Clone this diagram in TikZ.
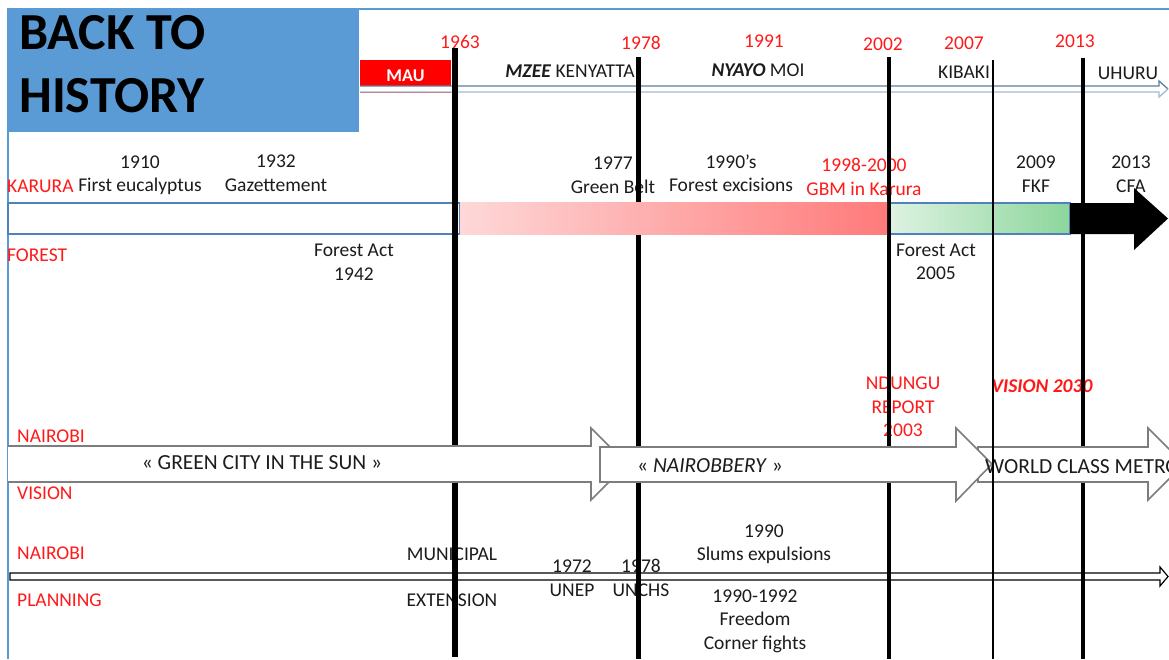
\documentclass[tikz,border=0pt]{standalone}
\usepackage{fontspec}
\setmainfont{Carlito}
\definecolor{frameblue}{RGB}{91,155,213}
\definecolor{redc}{RGB}{255,25,25}
\definecolor{txtc}{RGB}{28,28,30}
\definecolor{barblue}{RGB}{79,129,189}
\definecolor{axisblue}{RGB}{95,125,160}
\definecolor{axislight}{RGB}{165,185,205}
\definecolor{pinkL}{RGB}{254,216,216}
\definecolor{pinkR}{RGB}{255,122,122}
\definecolor{greenL}{RGB}{222,242,226}
\definecolor{greenR}{RGB}{140,214,155}
\definecolor{arrowgray}{RGB}{125,125,125}
\begin{document}
\begin{tikzpicture}[x=1pt,y=-1pt,
  txt/.style={font=\fontsize{19.5}{23.5}\selectfont, text=txtc, inner sep=0pt, align=center},
  rtxt/.style={txt, text=redc},
  vtxt/.style={font=\fontsize{21.5}{25}\selectfont, text=txtc, inner sep=0pt},
  vline/.style={black, line cap=butt},
  varrow/.style={fill=white, draw=arrowgray, line width=1.6pt, line join=miter},
  bartop/.style={draw=barblue, line width=1.3pt}]
\useasboundingbox (0,0) rectangle (1169,659);
\clip (0,0) rectangle (1169,659);
\fill[white] (0,0) rectangle (1169,659);

% frame and title
\draw[frameblue, line width=2pt] (8,659) -- (8,9) -- (1169,9);
\fill[frameblue] (8,9) rectangle (359,132);
\node[anchor=west, inner sep=0pt, text=black, font=\fontsize{52}{58}\selectfont\bfseries] (back) at (19,33) {BACK TO};
\node[anchor=west, inner sep=0pt, text=black, font=\fontsize{52}{58}\selectfont\bfseries] (hist) at (19,96) {HISTORY};

% top ruler
\node[fill=red, minimum width=91pt, minimum height=33pt, inner sep=0pt, text=white, font=\fontsize{18}{20}\selectfont\bfseries] (mau) at (405.5,76) {MAU};
\fill[white] (360,86) -- (1159,86) -- (1159,81) -- (1168,89) -- (1159,97) -- (1159,92) -- (360,92) -- cycle;
\draw[axisblue, line width=1.3pt, line join=miter] (360,86) -- (1159,86) -- (1159,81) -- (1168,89);
\draw[axislight, line width=1.3pt, line join=miter] (1168,89) -- (1159,97) -- (1159,92) -- (360,92);

\node[rtxt] (y1963) at (460,42) {1963};
\node[rtxt] (y1978) at (641,43) {1978};
\node[rtxt] (y1991) at (764,41) {1991};
\node[rtxt] (y2002) at (883,44) {2002};
\node[rtxt] (y2007) at (964,43) {2007};
\node[rtxt] (y2013) at (1075,41) {2013};
\node[txt] (kenyatta) at (570,71) {\textbf{\textit{MZEE}} KENYATTA};
\node[txt] (moi) at (758,70) {\textbf{\textit{NYAYO}} MOI};
\node[txt] (kibaki) at (964,72) {KIBAKI};
\node[txt] (uhuru) at (1128,73) {UHURU};

% forest section texts
\node[rtxt, anchor=west] (karura) at (7,186) {KARURA};
\node[txt] (f1910) at (140,175) {1910\\First eucalyptus};
\node[txt] (f1932) at (276,173) {1932\\Gazettement};
\node[txt] (f1977) at (613,175) {1977\\Green Belt};
\node[txt] (f1990) at (731,173) {1990’s\\Forest excisions};
\node[rtxt] (gbm) at (864,177) {1998-2000\\GBM in Karura};
\node[txt] (fkf) at (1036,174) {2009\\FKF};
\node[txt] (cfa) at (1131,174) {2013\\CFA};
\node[rtxt, anchor=west] (forest) at (7,255) {FOREST};
\node[txt] (fa1942) at (354,262) {Forest Act\\1942};
\node[txt] (fa2005) at (936,262) {Forest Act\\2005};

% vision texts
\node[rtxt] (ndungu) at (903,407) {NDUNGU\\REPORT\\2003};
\node[rtxt, font=\fontsize{19.5}{23.5}\selectfont\bfseries\itshape] (v2030) at (1042,386) {VISION 2030};
\node[rtxt, anchor=west] (nairobi1) at (17,436) {NAIROBI};
\node[rtxt, anchor=west] (vision) at (17,493) {VISION};

% planning texts
\node[rtxt, anchor=west] (nairobi2) at (17,553) {NAIROBI};
\node[rtxt, anchor=west] (planning) at (17,600) {PLANNING};
\node[txt] (municipal) at (452,554) {MUNICIPAL};
\node[txt] (extension) at (452,600) {EXTENSION};
\node[txt] (unep) at (572,578) {1972\\UNEP};
\node[txt] (unchs) at (641,578) {1978\\UNCHS};
\node[txt] (slums) at (764,544) {1990\\Slums expulsions};
\node[txt] (freedom) at (755,621) {1990-1992\\Freedom\\Corner fights};

% forest bar
\draw[bartop, fill=white] (8,203) rectangle (460,234);
\shade[left color=greenL, right color=greenR, draw=barblue, line width=1.3pt] (889,203) rectangle (1070,234);

% planning axis
\draw[black, line width=1.2pt, fill=white, line join=miter] (10,573) -- (1160,573) -- (1160,567) -- (1168,576.5) -- (1160,586) -- (1160,580) -- (10,580) -- cycle;

% vertical lines
\draw[vline, line width=6.5pt] (455,48) -- (455,657);
\draw[vline, line width=5pt] (638,57) -- (638,659);
\draw[vline, line width=4pt] (889,57) -- (889,659);
\draw[vline, line width=1.4pt] (993,60) -- (993,659);
\draw[vline, line width=4.5pt] (1083,58) -- (1083,659);

% pink gradient over the 1978 line
\shade[left color=pinkL, right color=pinkR] (460,202) rectangle (887,234);
% black forest arrow
\fill[black] (1070,203) -- (1134,203) -- (1134,188) -- (1168,218.5) -- (1134,250) -- (1134,234) -- (1070,234) -- cycle;

% vision arrows
\draw[varrow] (8,446) -- (591,446) -- (591,428) -- (627,464) -- (591,500) -- (591,482) -- (8,482);
\draw[varrow] (978,447) -- (1148,447) -- (1148,428) -- (1184,464) -- (1148,500) -- (1148,482) -- (978,482) -- cycle;
\draw[varrow] (600,447) -- (956,447) -- (956,428) -- (992,464) -- (956,501) -- (956,482) -- (600,482) -- cycle;
\node[vtxt] (green) at (262,463) {« GREEN CITY IN THE SUN »};
\node[vtxt] (nairobbery) at (710,466) {« \textit{NAIROBBERY} »};
\node[vtxt, anchor=west] (world) at (985,467) {WORLD CLASS METRO};
\draw[vline, line width=1.4pt] (993,420) -- (993,510);
\end{tikzpicture}
\end{document}
